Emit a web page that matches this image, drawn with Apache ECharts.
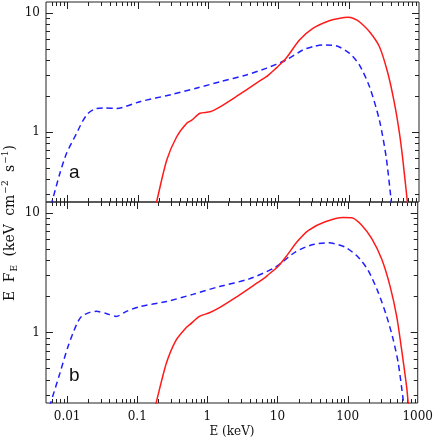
<!DOCTYPE html>
<html>
<head>
<meta charset="utf-8">
<script src="https://cdn.jsdelivr.net/npm/echarts@6/dist/echarts.min.js"></script>
<style>
html, body { margin: 0; padding: 0; background: #fff; }
#chart { width: 436px; height: 441px; }
</style>
</head>
<body>
<div id="chart"></div>
<script>
// energy (keV) / E F_E pairs
let topBlue = [
    [0.0058, 0.24], [0.0061, 0.26], [0.0079, 0.45], [0.0098, 0.66], [0.0136, 0.97],
    [0.0165, 1.22], [0.0199, 1.43], [0.0262, 1.57], [0.035, 1.58], [0.0505, 1.57],
    [0.108, 1.79], [0.3, 2.05], [0.7, 2.33], [1.49, 2.63], [3.5, 3.0], [6.7, 3.41],
    [12.9, 4.0], [22.3, 4.86], [32, 5.22], [43, 5.35], [66, 5.28], [103, 4.56],
    [142, 3.64], [198, 2.39], [274, 1.25], [341, 0.616], [402, 0.267], [410, 0.24]
]
let topRed = [
    [0.18, 0.24], [0.187, 0.26], [0.26, 0.578], [0.36, 0.908], [0.5, 1.18], [0.59, 1.25],
    [0.77, 1.43], [1.07, 1.47], [1.49, 1.62], [2.51, 1.97], [4.83, 2.55], [6.8, 2.9],
    [7.1, 2.96], [9.8, 3.52], [12.9, 4.14], [20, 5.9], [31, 7.4], [53, 8.57], [75, 9.0],
    [97.5, 9.15], [120, 8.9], [142, 8.4], [198, 6.92], [274, 5.18], [361, 3.1],
    [448, 1.73], [528, 0.97], [590, 0.578], [679, 0.267], [690, 0.24]
]
let botBlue = [
    [0.0056, 0.24], [0.0058, 0.255], [0.00787, 0.454], [0.0103, 0.762], [0.0136, 1.16],
    [0.016, 1.36], [0.021, 1.47], [0.0262, 1.5], [0.036, 1.44], [0.0505, 1.36],
    [0.07, 1.5], [0.108, 1.64], [0.26, 1.81], [0.62, 2.08], [1.49, 2.42], [3.88, 2.79],
    [9.3, 3.5], [17.9, 4.69], [31, 5.4], [53, 5.61], [92, 5.16], [142, 4.25],
    [198, 3.27], [274, 2.15], [361, 1.36], [448, 0.867], [528, 0.552], [622, 0.27], [635, 0.24]
]
let botRed = [
    [0.18, 0.24], [0.187, 0.261], [0.26, 0.552], [0.36, 0.867], [0.5, 1.1], [0.56, 1.16],
    [0.77, 1.36], [1.07, 1.46], [1.49, 1.61], [2.51, 1.95], [4.83, 2.53], [6.8, 2.9],
    [7.1, 2.97], [10.4, 3.61], [13.6, 4.38], [18.9, 5.69], [27.7, 7.13], [47.9, 8.4],
    [87, 9.12], [115, 9.08], [159, 7.86], [221, 6.07], [306, 4.11], [402, 2.45],
    [501, 1.36], [590, 0.714], [695, 0.35], [733, 0.255], [745, 0.24]
]

let xTickLabels = ['0.01', '0.1', '1', '10', '100', '1000']
let yTickLabels = ['1', '10']
let xMin = 0.005, xMax = 1000
let yMin = 0.257, yMax = 12.3

// tick marks on all four sides: [x, y, kind] kind 0 x-major, 1 x-minor, 2 y-major, 3 y-minor
let tickData = []
for (let d = -3; d <= 2; d++) {
    for (let m = 1; m <= 9; m++) {
        let v = m * Math.pow(10, d)
        if (v > xMin && v < xMax) tickData.push([v, 1, m === 1 ? 0 : 1])
    }
}
for (let d = -1; d <= 1; d++) {
    for (let m = 1; m <= 9; m++) {
        let v = m * Math.pow(10, d)
        if (v > yMin && v < yMax) tickData.push([1, v, m === 1 ? 2 : 3])
    }
}

let serif = 'DejaVu Serif'
let decadeLabel = (labels, first) => (v) => {
    let l = Math.log10(v)
    let r = Math.round(l)
    if (Math.abs(l - r) > 1e-6) return ''
    return labels[r - first] || ''
}

function renderTicks(params, api) {
    let cs = params.coordSys
    let kind = api.value(2)
    let p = api.coord([api.value(0), api.value(1)])
    let len = (kind === 0 || kind === 2) ? 7 : 4
    let st = { stroke: '#222', lineWidth: 1 }
    if (kind < 2) {
        let x = Math.round(p[0]) + 0.5
        return { type: 'group', children: [
            { type: 'line', shape: { x1: x, y1: cs.y + cs.height, x2: x, y2: cs.y + cs.height - len }, style: st },
            { type: 'line', shape: { x1: x, y1: cs.y, x2: x, y2: cs.y + len }, style: st }
        ] }
    }
    let y = Math.round(p[1]) + 0.5
    return { type: 'group', children: [
        { type: 'line', shape: { x1: cs.x, y1: y, x2: cs.x + len, y2: y }, style: st },
        { type: 'line', shape: { x1: cs.x + cs.width, y1: y, x2: cs.x + cs.width - len, y2: y }, style: st }
    ] }
}

let grids = [
    { left: 46, right: 17, top: 2, height: 200 },
    { left: 46, right: 17, top: 202, height: 201 }
]

let xAxes = [0, 1].map(i => ({
    type: 'log', logBase: 10, gridIndex: i, min: xMin, max: xMax,
    axisLine: { show: false }, axisTick: { show: false }, splitLine: { show: false },
    axisLabel: {
        show: i === 1, margin: 8, color: '#111', fontFamily: serif, fontSize: 12,
        formatter: decadeLabel(xTickLabels, -2)
    }
}))
let yAxes = [0, 1].map(i => ({
    type: 'log', logBase: 10, gridIndex: i, min: yMin, max: yMax,
    axisLine: { show: false }, axisTick: { show: false }, splitLine: { show: false },
    axisLabel: {
        margin: 6, color: '#111', fontFamily: serif, fontSize: 12,
        formatter: decadeLabel(yTickLabels, 0)
    }
}))

let lineSeries = (data, i, color, dashed) => ({
    type: 'line', xAxisIndex: i, yAxisIndex: i, data: data,
    showSymbol: false, smooth: 0.25, clip: true, silent: true,
    lineStyle: { color: color, width: 1.5, type: dashed ? [6, 4] : 'solid' }
})

let chart = echarts.init(document.getElementById('chart'))
chart.setOption({
    animation: false,
    backgroundColor: '#fff',
    grid: grids.map(g => Object.assign({ show: true, borderColor: '#222', borderWidth: 1, backgroundColor: 'transparent' }, g)),
    xAxis: xAxes,
    yAxis: yAxes,
    series: [
        lineSeries(topBlue, 0, '#1f1fff', true),
        lineSeries(topRed, 0, '#ff1a1a', false),
        lineSeries(botBlue, 1, '#1f1fff', true),
        lineSeries(botRed, 1, '#ff1a1a', false),
        { type: 'custom', xAxisIndex: 0, yAxisIndex: 0, data: tickData, renderItem: renderTicks, silent: true, clip: false },
        { type: 'custom', xAxisIndex: 1, yAxisIndex: 1, data: tickData, renderItem: renderTicks, silent: true, clip: false }
    ],
    graphic: [
        {
            type: 'text', x: 10, y: 223, rotation: Math.PI / 2,
            style: {
                text: '{n|E}{w| }{n|F}{s|E}{w| }{n|(keV}{w| }{n|cm}{p|−2}{w| }{n|s}{p|−1}{n|)}',
                align: 'center', verticalAlign: 'middle', fill: '#111',
                rich: {
                    n: { fontFamily: serif, fontSize: 14, lineHeight: 18, verticalAlign: 'middle' },
                    w: { fontFamily: serif, fontSize: 14, lineHeight: 18, padding: [0, 2] },
                    s: { fontFamily: serif, fontSize: 9, lineHeight: 18, verticalAlign: 'bottom', padding: [5, 0, 0, 1] },
                    p: { fontFamily: serif, fontSize: 9, lineHeight: 18, verticalAlign: 'top', padding: [0, 0, 4, 1] }
                }
            }
        },
        {
            type: 'text', x: 232, y: 432,
            style: { text: 'E (keV)', align: 'center', verticalAlign: 'middle', fontFamily: serif, fontSize: 12, fill: '#111' }
        },
        {
            type: 'text', x: 69, y: 173,
            style: { text: 'a', align: 'left', verticalAlign: 'middle', fontFamily: 'Liberation Sans', fontSize: 19, fill: '#111' }
        },
        {
            type: 'text', x: 69, y: 376,
            style: { text: 'b', align: 'left', verticalAlign: 'middle', fontFamily: 'Liberation Sans', fontSize: 19, fill: '#111' }
        }
    ]
})
</script>
</body>
</html>
